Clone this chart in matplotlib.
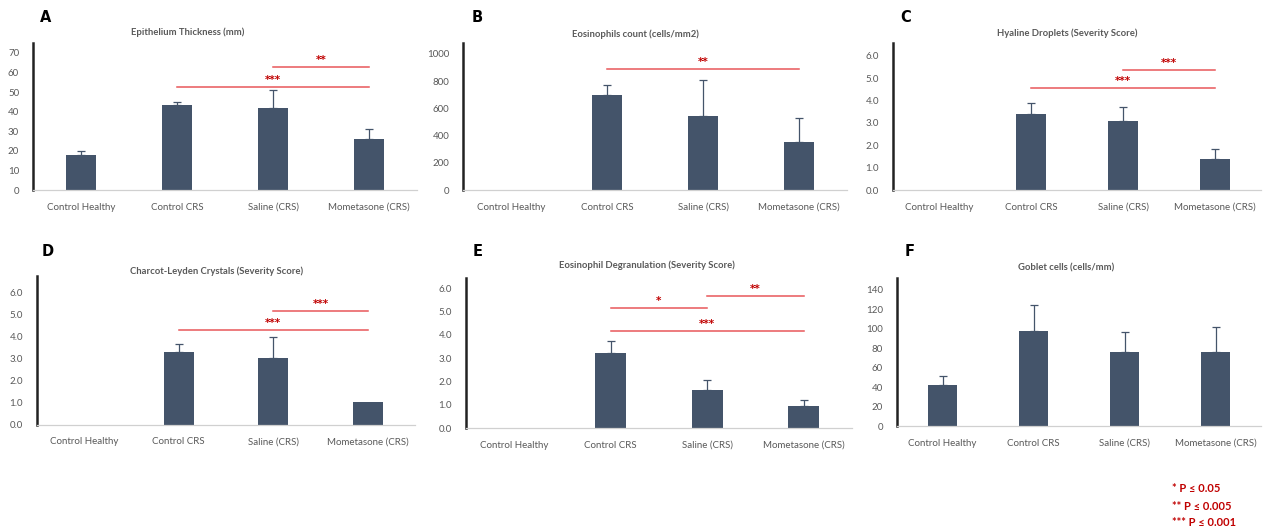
import matplotlib.pyplot as plt

W, H = 1263, 531

categories = ["Control Healthy", "Control CRS", "Saline (CRS)", "Mometasone (CRS)"]

# panel A - epithelium thickness
a_means = [18, 43.5, 42, 26]
a_errs = [2, 1.5, 9, 5]
a_ticks = [0, 10, 20, 30, 40, 50, 60, 70]
a_sig = [(2, 3, 62.8, "**"), (1, 3, 52.6, "***")]

# panel B - eosinophils count
b_means = [0, 700, 545, 355]
b_errs = [0, 75, 265, 175]
b_ticks = [0, 200, 400, 600, 800, 1000]
b_sig = [(1, 3, 890, "**")]

# panel C - hyaline droplets
c_means = [0, 3.4, 3.1, 1.4]
c_errs = [0, 0.5, 0.6, 0.45]
c_ticks = [0, 1, 2, 3, 4, 5, 6]
c_sig = [(2, 3, 5.38, "***"), (1, 3, 4.57, "***")]

# panel D - charcot-leyden crystals
d_means = [0, 3.3, 3.05, 1.05]
d_errs = [0, 0.4, 0.95, 0]
d_ticks = [0, 1, 2, 3, 4, 5, 6]
d_sig = [(2, 3, 5.18, "***"), (1, 3, 4.32, "***")]

# panel E - eosinophil degranulation
e_means = [0, 3.2, 1.65, 0.95]
e_errs = [0, 0.55, 0.4, 0.25]
e_ticks = [0, 1, 2, 3, 4, 5, 6]
e_sig = [(2, 3, 5.66, "**"), (1, 2, 5.15, "*"), (1, 3, 4.16, "***")]

# panel F - goblet cells
f_means = [42, 98, 76, 76]
f_errs = [9, 26, 21, 26]
f_ticks = [0, 20, 40, 60, 80, 100, 120, 140]
f_sig = []

legend_lines = ["* P ≤ 0.05", "** P ≤ 0.005", "*** P ≤ 0.001"]

BAR = "#44546A"
LINE_RED = "#E8575A"
STAR_RED = "#C00000"
GRAY = "#595959"

plt.rcParams["font.family"] = ["Lato", "DejaVu Sans"]

fig = plt.figure(figsize=(W / 100, H / 100), dpi=100)


def px_axes(left, right, bottom, top):
    return fig.add_axes([left / W, 1 - bottom / H, (right - left) / W, (bottom - top) / H])


def draw_panel(box, ylim_top, means, errs, ticks, sig, fmt, letter, letter_xy, title, title_xy):
    ax = px_axes(*box)
    x = list(range(len(categories)))
    ax.bar(x, means, width=0.32, color=BAR, zorder=2)
    for xi, m, e in zip(x, means, errs):
        if e > 0:
            ax.errorbar(xi, m, yerr=[[0], [e]], fmt="none", ecolor=BAR,
                        elinewidth=0.9, capsize=3, capthick=0.9, zorder=3)
    ax.set_xlim(-0.5, 3.5)
    ax.set_ylim(0, ylim_top)
    ax.set_yticks(ticks)
    ax.set_yticklabels([fmt.format(t) for t in ticks])
    ax.set_xticks(x)
    ax.set_xticklabels(categories)
    ax.tick_params(length=0, labelsize=7, labelcolor=GRAY)
    ax.tick_params(axis="x", pad=9)
    ax.tick_params(axis="y", pad=10)
    for s in ["top", "right"]:
        ax.spines[s].set_visible(False)
    ax.spines["left"].set_color("#222222")
    ax.spines["left"].set_linewidth(1.8)
    ax.spines["bottom"].set_color("#D0D0D0")
    ax.spines["bottom"].set_linewidth(0.9)
    for i, j, y, label in sig:
        ax.plot([i, j], [y, y], color=LINE_RED, lw=1.1, zorder=4)
        ax.annotate(label, ((i + j) / 2, y), xytext=(0, 1.5), textcoords="offset points",
                    ha="center", va="bottom", color=STAR_RED, fontsize=7.5,
                    fontweight="bold", family="DejaVu Sans")
    fig.text(letter_xy[0] / W, 1 - letter_xy[1] / H, letter, fontsize=10.5,
             fontweight="bold", ha="center", va="center", family="DejaVu Sans")
    fig.text(title_xy[0] / W, 1 - title_xy[1] / H, title, fontsize=6.8, fontweight="bold",
             color=GRAY, ha="center", va="center")
    return ax


draw_panel((33, 417, 190, 43), 75, a_means, a_errs, a_ticks, a_sig, "{:.0f}",
           "A", (46, 18), "Epithelium Thickness (mm)", (188, 32))
draw_panel((463, 847, 190, 43), 1080, b_means, b_errs, b_ticks, b_sig, "{:.0f}",
           "B", (477, 17), "Eosinophils count (cells/mm2)", (635, 34))
draw_panel((893, 1261, 190, 43), 6.58, c_means, c_errs, c_ticks, c_sig, "{:.1f}",
           "C", (906, 17), "Hyaline Droplets (Severity Score)", (1067, 33))
draw_panel((37, 415, 425, 276), 6.77, d_means, d_errs, d_ticks, d_sig, "{:.1f}",
           "D", (48, 251), "Charcot-Leyden Crystals (Severity Score)", (217, 271))
draw_panel((466, 852, 428, 278), 6.43, e_means, e_errs, e_ticks, e_sig, "{:.1f}",
           "E", (478, 251), "Eosinophil Degranulation (Severity Score)", (647, 265))
draw_panel((897, 1261, 426, 278), 152, f_means, f_errs, f_ticks, f_sig, "{:.0f}",
           "F", (910, 251), "Goblet cells (cells/mm)", (1066, 268))

for line, y in zip(legend_lines, [488, 506, 523]):
    fig.text(1172 / W, 1 - y / H, line, color=STAR_RED, fontsize=8, fontweight="bold",
             ha="left", va="center")

fig.savefig("out.png", dpi=100, facecolor="white")
